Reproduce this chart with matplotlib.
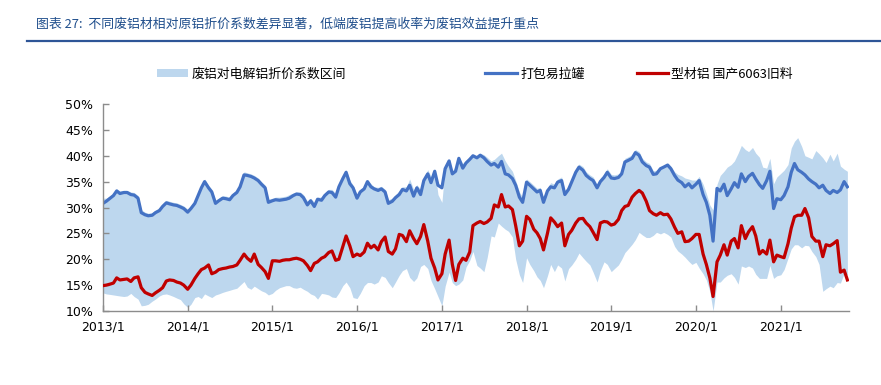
import matplotlib
matplotlib.use('Agg')
import matplotlib.pyplot as plt
import pandas as pd
from matplotlib.lines import Line2D
from matplotlib.patches import Patch
from matplotlib.font_manager import FontProperties

CJK = ['Noto Sans CJK SC', 'DejaVu Sans']
plt.rcParams['font.family'] = ['DejaVu Sans', 'Noto Sans CJK SC']

title_text = '图表 27:  不同废铝材相对原铝折价系数差异显著，低端废铝提高收率为废铝效益提升重点'
legend_labels = ['废铝对电解铝折价系数区间', '打包易拉罐', '型材铝 国产6063旧料']

start_date = '2013-01-01'
n_points = 212  # semi-monthly observations

blue = [30.8, 31.2, 31.8, 32.3, 33.2, 32.7, 32.9, 32.9, 32.5, 32.4,
        31.8, 29.0, 28.6, 28.4, 28.5, 29.0, 29.4, 30.2, 30.9, 30.7,
        30.5, 30.4, 30.1, 29.8, 29.1, 29.8, 30.8, 32.3, 33.8, 35.0,
        33.8, 33.0, 30.8, 31.3, 31.8, 31.7, 31.5, 32.3, 32.9, 34.0,
        36.3, 36.2, 36.0, 35.7, 35.2, 34.5, 33.8, 31.0, 31.3, 31.5,
        31.4, 31.5, 31.6, 31.8,
        32.3, 32.6, 32.5, 31.9, 30.5, 31.3, 30.2, 31.6, 31.4, 32.3,
        33.0, 32.9, 32.0, 34.0, 35.6, 36.8, 34.6, 33.8, 31.8, 33.0,
        33.6, 35.0, 34.0, 33.6, 33.3, 33.6, 33.0, 30.8, 31.2, 31.9,
        32.5, 33.5, 33.2, 34.3, 32.2, 33.8, 32.5, 35.2, 36.5, 34.8,
        37.0, 34.3, 33.8, 37.5, 39.0, 36.5, 37.0, 39.5, 37.6, 38.6,
        39.3, 40.0,
        39.6, 40.1, 39.6, 38.9, 38.2, 38.5, 37.8, 38.9, 36.5, 36.3,
        35.6, 34.3, 32.0, 31.0, 34.9, 34.3, 33.6, 33.0, 33.3, 31.0,
        33.2, 34.0, 33.8, 34.9, 35.2, 32.5, 33.5, 35.0, 36.8, 37.8,
        37.2, 36.2, 35.6, 35.2, 33.8, 35.0, 35.8, 36.8, 35.7, 35.6,
        35.8, 36.5, 38.8, 39.1, 39.5, 40.6, 40.1, 38.8, 38.1, 37.8,
        36.4, 36.5,
        37.5, 37.8, 38.2, 37.5, 36.2, 35.3, 34.8, 34.0, 34.6, 33.8,
        34.5, 35.2, 32.5, 31.0, 28.5, 23.5, 33.7, 33.2, 34.5, 32.3,
        33.6, 34.8, 33.9, 36.5, 35.0, 36.0, 36.6, 35.5, 34.4, 33.7,
        35.2, 37.0, 29.8, 31.7, 31.5, 32.3, 34.0, 36.8, 38.5, 37.3,
        36.8, 36.3, 35.5, 35.0, 34.5, 33.8, 34.3, 33.3, 32.7, 33.3,
        32.9, 33.4, 35.0, 34.0]

red = [14.9, 15.0, 15.2, 15.4, 16.4, 16.0, 16.1, 16.2, 15.7, 16.4,
       16.6, 14.5, 13.6, 13.3, 13.0, 13.5, 14.0, 14.5, 15.8, 16.0,
       15.9, 15.6, 15.4, 15.0, 14.2, 15.0, 16.3, 17.2, 18.0, 18.3,
       18.9, 17.2, 17.5, 18.0, 18.2, 18.3, 18.5, 18.6, 18.9, 19.8,
       21.0, 20.2, 19.6, 21.0, 19.0, 18.4, 17.6, 16.3, 19.7, 19.7,
       19.6, 19.8, 19.9, 19.9,
       20.1, 20.2, 20.0, 19.7, 18.8, 17.8, 19.2, 19.5, 20.2, 20.5,
       21.3, 21.6, 19.8, 20.0, 22.5, 24.5, 22.6, 20.5, 21.0, 20.7,
       21.4, 23.1, 22.2, 22.7, 21.8, 23.4, 24.3, 21.5, 21.0, 22.0,
       24.8, 24.6, 23.4, 25.5, 24.0, 23.0, 24.4, 26.7, 23.5, 20.2,
       18.3, 16.0, 17.2, 21.0, 23.7, 19.0, 15.9, 19.0, 20.2, 19.8,
       21.4, 26.5,
       27.0, 27.3, 26.9, 27.2, 27.9, 30.5, 30.1, 32.5, 30.1, 30.3,
       29.6, 26.5, 22.6, 23.5, 28.3, 27.7, 25.8, 25.1, 24.0, 21.8,
       25.0, 28.0, 27.2, 26.3, 27.0, 22.6, 24.8, 25.6, 27.0, 27.8,
       27.9, 27.0, 26.3, 25.2, 23.8, 27.0, 27.3, 27.2, 26.6, 26.8,
       27.7, 29.4, 30.2, 30.4, 32.0, 32.7, 33.3, 32.8, 31.2, 29.4,
       28.8, 28.5,
       29.0, 28.6, 28.7, 27.8, 26.2, 25.0, 25.3, 23.4, 23.5, 24.0,
       24.8, 24.8, 21.0, 19.0, 16.4, 12.8, 19.5, 20.8, 22.8, 20.8,
       23.5, 24.0, 22.2, 26.5, 24.0, 25.3, 26.3, 24.5, 21.0, 21.7,
       21.0, 23.7, 19.5, 20.8, 20.5, 20.3, 23.0, 26.0, 28.2, 28.5,
       28.5, 29.8, 28.0, 24.4, 23.5, 23.5, 20.5, 22.8, 22.6, 23.0,
       23.6, 17.5, 17.9, 16.0]

band_lo = [13.5, 13.3, 13.2, 13.1, 13.0, 12.9, 12.8, 12.9, 13.4, 12.8,
           12.3, 11.0, 11.1, 11.3, 11.9, 12.3, 12.9, 13.2, 13.3, 13.1,
           12.8, 12.5, 12.2, 11.4, 10.7, 11.3, 12.6, 12.8, 12.4, 13.3,
           12.9, 12.6, 13.1, 13.3, 13.6, 13.8, 14.0, 14.2, 14.4, 15.0,
           15.7, 14.6, 14.2, 14.8, 14.3, 13.9, 13.6, 13.1, 13.4, 14.0,
           14.5, 14.7, 14.9, 14.9,
           14.5, 14.4, 14.6, 14.2, 13.8, 13.3, 13.0, 12.3, 13.4, 13.3,
           13.1, 12.7, 12.6, 13.5, 14.9, 15.6, 14.5, 12.6, 12.4, 13.4,
           14.9, 15.5, 15.5, 15.2, 15.6, 16.8, 16.5, 15.5, 14.5, 15.6,
           16.9, 17.8, 18.2, 16.5, 15.7, 16.4, 18.6, 19.0, 18.2, 15.9,
           14.3, 12.8, 11.0, 14.8, 17.5, 15.5, 14.9, 15.2, 16.0, 18.5,
           19.8, 21.5,
           18.8, 18.3, 17.6, 20.3, 24.5, 24.3, 27.0, 26.4, 25.8, 25.4,
           24.3, 20.0, 17.0, 15.5, 20.3, 19.0, 17.8, 16.6, 15.9, 14.5,
           16.8, 19.0, 17.6, 18.9, 18.3, 15.8, 18.2, 18.9, 20.0, 21.2,
           20.3, 19.6, 18.9, 17.5, 15.6, 17.8, 19.5, 19.0, 17.6, 18.2,
           18.9, 20.0, 21.3, 22.0, 22.9, 23.8, 25.2, 24.7, 24.2, 24.2,
           24.6, 25.2,
           24.9, 25.2, 24.8, 24.3, 22.5, 21.6, 21.0, 20.4, 19.6, 19.0,
           19.4, 18.3, 17.2, 16.0, 13.8, 10.0, 15.6, 15.6, 16.4, 16.9,
           17.2, 16.5, 15.2, 18.7, 18.4, 18.7, 18.3, 17.1, 16.3, 16.3,
           16.3, 18.8, 16.3, 16.8, 17.0, 18.0, 20.2, 22.0, 22.8, 22.8,
           22.2, 22.7, 22.6, 21.5, 20.5, 19.0, 13.8, 14.3, 14.8, 14.5,
           15.5, 15.4, 17.3, 17.0]

band_hi = [31.8, 31.8, 32.3, 32.8, 33.6, 33.2, 33.3, 33.3, 33.0, 32.9,
           32.3, 29.6, 29.1, 28.9, 29.0, 29.5, 29.9, 30.7, 31.4, 31.2,
           31.0, 30.9, 30.6, 30.3, 29.7, 30.3, 31.3, 32.8, 34.3, 35.5,
           34.3, 33.5, 31.4, 31.8, 32.3, 32.2, 32.0, 32.8, 33.4, 34.5,
           36.9, 36.7, 36.5, 36.2, 35.7, 35.0, 34.3, 31.6, 31.8, 32.0,
           32.0, 32.1, 32.2, 32.5,
           32.8, 33.0, 33.0, 32.5, 31.2, 31.8, 31.0, 32.0, 32.0, 32.8,
           33.5, 33.5, 32.7, 34.6, 36.0, 37.3, 35.3, 34.3, 32.5, 33.5,
           34.0, 35.4, 34.6, 34.0, 33.9, 34.1, 33.5, 31.5, 31.8, 32.5,
           33.2, 34.0, 34.0, 35.5, 33.5, 34.4, 33.5, 35.8, 37.3, 36.0,
           37.5, 32.5, 31.0, 38.0, 39.3, 37.0, 38.0, 39.7, 38.5, 39.0,
           39.6, 40.2,
           40.0, 40.5, 40.2, 39.7, 39.0, 39.3, 40.0, 40.5, 39.0, 38.0,
           37.0, 35.2, 33.0, 32.0, 35.5, 35.0, 34.3, 33.7, 33.9, 31.8,
           33.8, 34.8, 34.5, 35.5, 35.9, 33.2, 34.2, 35.6, 37.4, 38.4,
           37.9, 36.9, 36.3, 35.9, 34.5, 35.7, 36.5, 37.5, 36.4, 36.3,
           36.5, 37.2, 39.5, 39.8, 40.2, 41.2, 40.8, 39.5, 38.8, 38.5,
           37.1, 37.2,
           37.6, 37.9, 38.6, 38.0, 36.9, 36.4, 36.1, 35.7, 35.5, 35.3,
           35.3, 36.0, 34.5, 32.7, 30.5, 29.5, 34.5, 36.2, 37.0, 37.8,
           38.3, 39.0, 40.5, 42.0, 41.2, 40.8, 41.6, 40.5, 39.7, 37.8,
           37.6, 39.5, 34.6, 35.9, 36.6, 37.2, 38.3, 41.5, 42.8, 43.5,
           41.8, 40.0, 39.7, 39.4, 41.0, 40.4, 39.6, 38.7, 40.3, 39.0,
           40.5, 38.0, 37.4, 37.0]

xtick_dates = ['2013-01-01', '2014-01-01', '2015-01-01', '2016-01-01', '2017-01-01',
               '2018-01-01', '2019-01-01', '2020-01-01', '2021-01-01']
xtick_labels = ['2013/1', '2014/1', '2015/1', '2016/1', '2017/1',
                '2018/1', '2019/1', '2020/1', '2021/1']
ytick_values = [10, 15, 20, 25, 30, 35, 40, 45, 50]
ytick_labels = ['10%', '15%', '20%', '25%', '30%', '35%', '40%', '45%', '50%']

BAND_C = '#BDD7EE'
BLUE_C = '#4472C4'
RED_C = '#C00000'
AXIS_C = '#8C8C8C'

dates = pd.date_range(start_date, periods=n_points, freq='SMS')

W, H = 881, 385
fig = plt.figure(figsize=(W / 100, H / 100), dpi=100)
ax = fig.add_axes([103 / W, 1 - 311 / H, 746 / W, 207 / H])

ax.fill_between(dates, band_lo, band_hi, color=BAND_C, linewidth=0, zorder=1)
ax.plot(dates, blue, color=BLUE_C, lw=2.3, zorder=2, solid_joinstyle='round')
ax.plot(dates, red, color=RED_C, lw=2.3, zorder=3, solid_joinstyle='round')

ax.set_ylim(10, 50)
ax.set_yticks(ytick_values)
ax.set_yticklabels(ytick_labels)
ax.set_xlim(pd.Timestamp('2013-01-01'), pd.Timestamp('2021-10-22'))
ax.set_xticks(pd.to_datetime(xtick_dates))
ax.set_xticklabels(xtick_labels)

for s in ['top', 'right']:
    ax.spines[s].set_visible(False)
for s in ['left', 'bottom']:
    ax.spines[s].set_color(AXIS_C)
    ax.spines[s].set_linewidth(1.0)
ax.tick_params(axis='both', direction='in', length=4, width=1, color=AXIS_C,
               labelsize=9, labelcolor='black')
ax.tick_params(axis='y', pad=7)
ax.tick_params(axis='x', pad=7)

# title and rule
fig.text(36 / W, 1 - 24 / H, title_text, fontsize=9.3, color='#1F4E8C',
         family=CJK, va='center', ha='left')
fig.add_artist(Line2D([27 / W, 1.0], [1 - 41 / H, 1 - 41 / H],
                      transform=fig.transFigure, color='#2E5597', lw=1.6))

# legend
lp = FontProperties(family=CJK, size=9.3)
common = dict(loc='center left', frameon=False, prop=lp, handletextpad=0.25,
              borderpad=0, borderaxespad=0)
fig.legend(handles=[Patch(facecolor=BAND_C, edgecolor='none')], labels=[legend_labels[0]],
           bbox_to_anchor=(157 / W, 1 - 74 / H), handlelength=2.4, handleheight=0.6, **common)
fig.legend(handles=[Line2D([], [], color=BLUE_C, lw=2.3)], labels=[legend_labels[1]],
           bbox_to_anchor=(485 / W, 1 - 74 / H), handlelength=2.5, **common)
fig.legend(handles=[Line2D([], [], color=RED_C, lw=2.3)], labels=[legend_labels[2]],
           bbox_to_anchor=(637 / W, 1 - 74 / H), handlelength=2.4, **common)

fig.savefig('out.png', dpi=100)
